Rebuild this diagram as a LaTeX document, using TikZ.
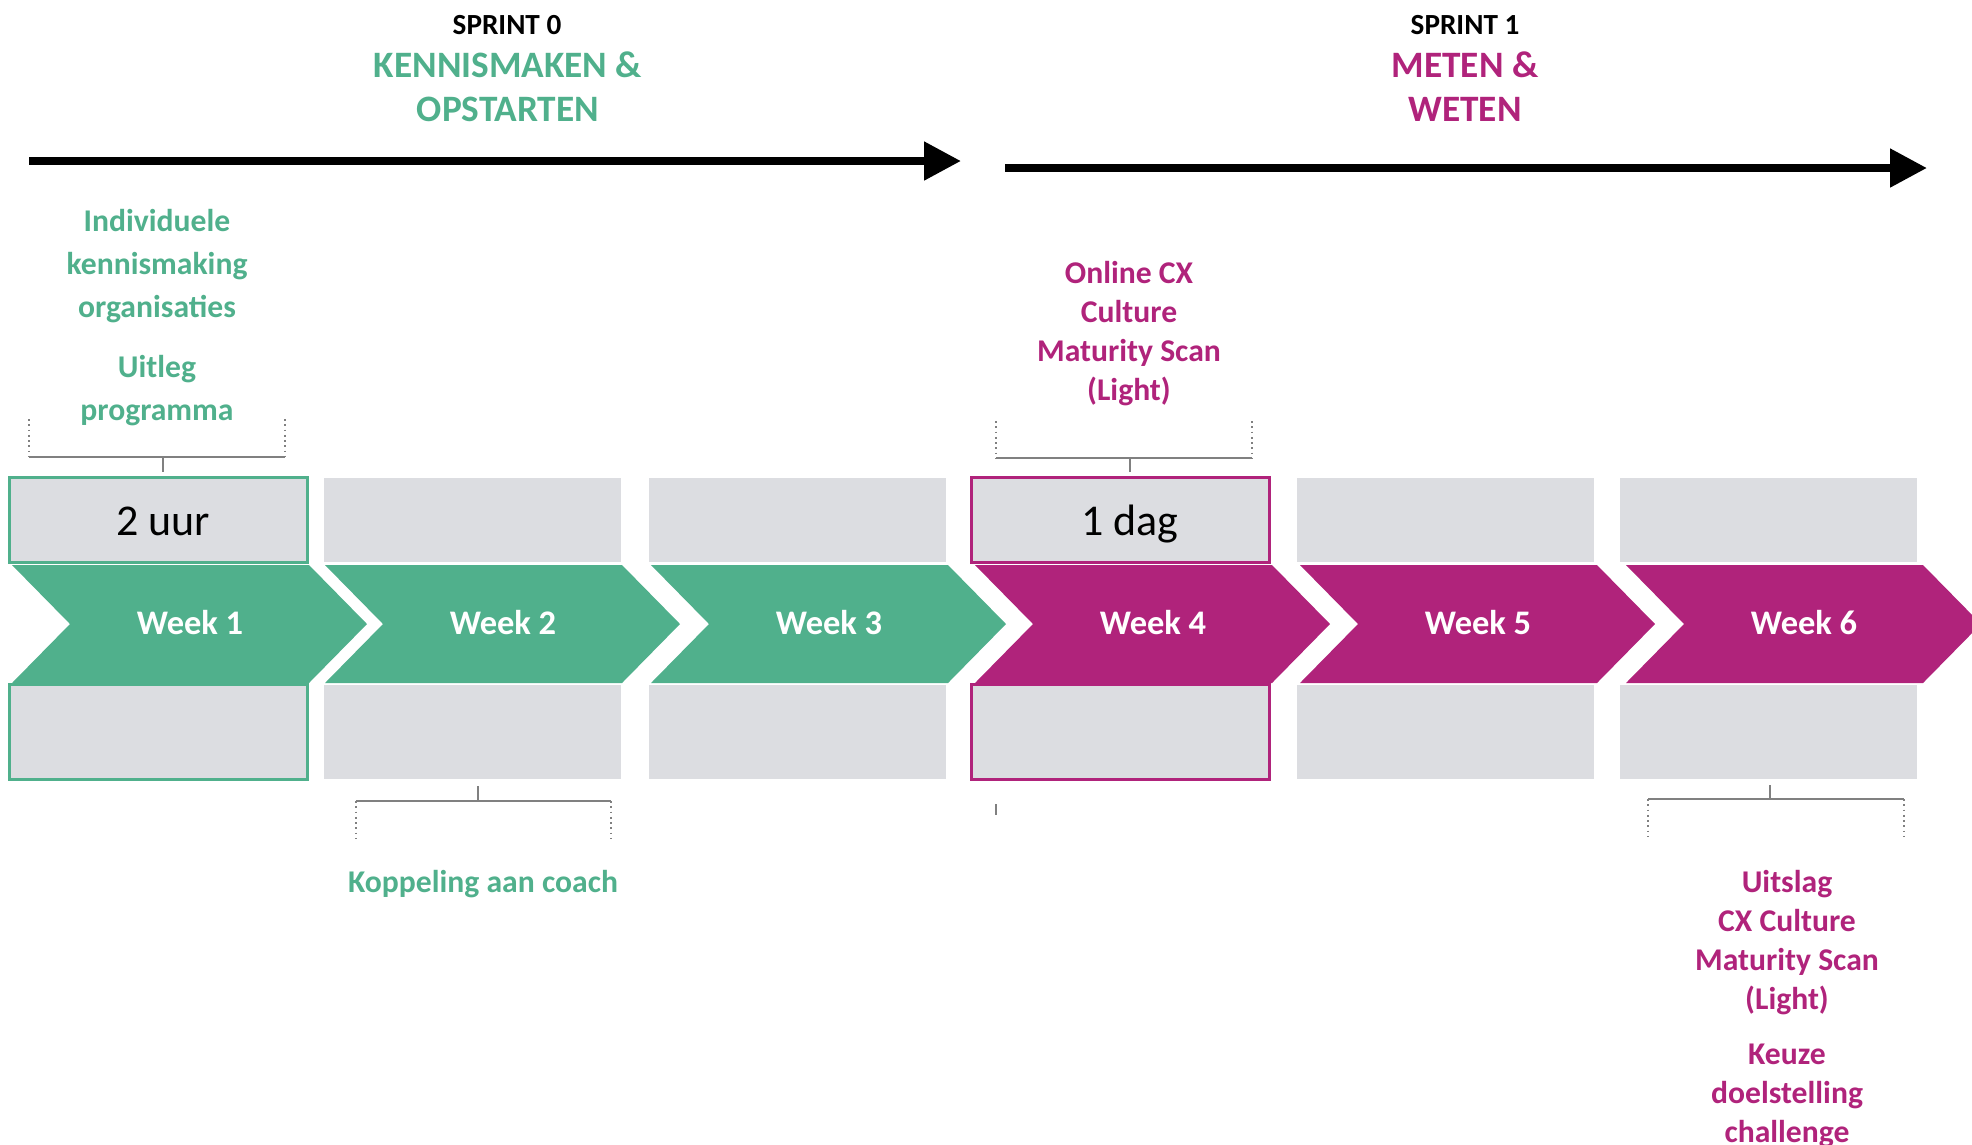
\documentclass[tikz,border=0pt]{standalone}
\usepackage{fontspec}
\setmainfont{Carlito}
\usetikzlibrary{arrows.meta}

\definecolor{sprintgreen}{RGB}{80,176,140}
\definecolor{sprintpink}{RGB}{176,35,123}
\definecolor{boxgray}{RGB}{220,221,225}
\definecolor{brackgray}{RGB}{128,128,128}

\begin{document}
\begin{tikzpicture}[x=0.01cm, y=-0.01cm,
  every node/.style={align=center, inner sep=0pt},
  timearrow/.style={line width=2.3pt, -{Triangle[length=10.5pt,width=10.5pt]}},
  topbox/.style={fill=boxgray, minimum width=2.97cm, minimum height=0.84cm},
  botbox/.style={fill=boxgray, minimum width=2.97cm, minimum height=0.94cm},
  weeklabel/.style={text=white, font=\fontsize{9.8}{12}\selectfont\bfseries},
  sprintlabel/.style={font=\fontsize{8.3}{10}\selectfont\bfseries},
  sprinttitle/.style={font=\fontsize{10.6}{12.5}\selectfont\bfseries},
  note/.style={font=\fontsize{9}{11.1}\selectfont\bfseries},
  bracket/.style={brackgray, line width=0.6pt},
  bracketside/.style={brackgray, line width=0.5pt, densely dotted}]

\useasboundingbox (0,0) rectangle (1972,1144);

% Sprint headings
\node[sprintlabel] (s0) at (507,25) {SPRINT 0};
\node[sprinttitle, text=sprintgreen] (s0title) at (508,87) {KENNISMAKEN \&\\OPSTARTEN};
\node[sprintlabel] (s1) at (1465,25) {SPRINT 1};
\node[sprinttitle, text=sprintpink] (s1title) at (1465,87) {METEN \&\\WETEN};

% Timeline arrows
\draw[timearrow] (29,161) -- (961,161);
\draw[timearrow] (1005,168) -- (1927,168);

% Weeks: boxes above and below, chevron in between
\foreach \bx/\cx/\n/\col in {10/12/1/sprintgreen, 324/325/2/sprintgreen, 649/651/3/sprintgreen,
                            972/975/4/sprintpink, 1297/1300/5/sprintpink, 1620/1626/6/sprintpink}{
  \node[topbox] (top\n) at (\bx+148.5,520) {};
  \node[botbox] (bot\n) at (\bx+148.5,732) {};
  \fill[\col] (\cx,565) -- ++(297,0) -- ++(58,59) -- ++(-58,59) -- ++(-297,0) -- ++(58,-59) -- cycle;
  \node[weeklabel] (week\n) at (\cx+178,623) {Week \n};
}

% Highlighted weeks
\draw[sprintgreen, line width=0.8pt] (top1.north west) rectangle (top1.south east);
\draw[sprintgreen, line width=0.8pt] (bot1.north west) rectangle (bot1.south east);
\draw[sprintpink, line width=0.8pt] (top4.north west) rectangle (top4.south east);
\draw[sprintpink, line width=0.8pt] (bot4.north west) rectangle (bot4.south east);

\node[font=\fontsize{12.5}{14}\selectfont, anchor=base] (dur1) at (163,535) {2 uur};
\node[font=\fontsize{12.5}{14}\selectfont, anchor=base] (dur4) at (1130,535) {1 dag};

% Brackets above
\coordinate (b1) at (163,472);
\draw[bracketside] (29,419) -- (29,457);
\draw[bracketside] (285,419) -- (285,457);
\draw[bracket] (29,457) -- (285,457);
\draw[bracket] (163,457) -- (b1);
\coordinate (b4) at (1130,472);
\draw[bracketside] (996,421) -- (996,458);
\draw[bracketside] (1252,421) -- (1252,458);
\draw[bracket] (996,458) -- (1252,458);
\draw[bracket] (1130,458) -- (b4);

% Brackets below
\coordinate (b2) at (478,786);
\draw[bracket] (b2) -- (478,801);
\draw[bracket] (356,801) -- (611,801);
\draw[bracketside] (356,801) -- (356,838);
\draw[bracketside] (611,801) -- (611,838);
\coordinate (b6) at (1770,785);
\draw[bracket] (b6) -- (1770,799);
\draw[bracket] (1648,799) -- (1904,799);
\draw[bracketside] (1648,799) -- (1648,837);
\draw[bracketside] (1904,799) -- (1904,837);
\draw[brackgray, line width=0.4pt] (996,804) -- (996,815);

% Notes
\node[note, text=sprintgreen, font=\fontsize{9}{12.2}\selectfont\bfseries] (n1a) at (157,266) {Individuele\\kennismaking\\organisaties};
\node[note, text=sprintgreen, font=\fontsize{9}{12.2}\selectfont\bfseries] (n1b) at (157,391) {Uitleg\\programma};
\node[note, text=sprintgreen] (n2) at (483,884) {Koppeling aan coach};
\node[note, text=sprintpink] (n4) at (1129,334) {Online CX\\Culture\\Maturity Scan\\(Light)};
\node[note, text=sprintpink] (n6a) at (1787,943) {Uitslag\\CX Culture\\Maturity Scan\\(Light)};
\node[note, text=sprintpink] (n6b) at (1787,1096) {Keuze\\doelstelling\\challenge};

\end{tikzpicture}
\end{document}
